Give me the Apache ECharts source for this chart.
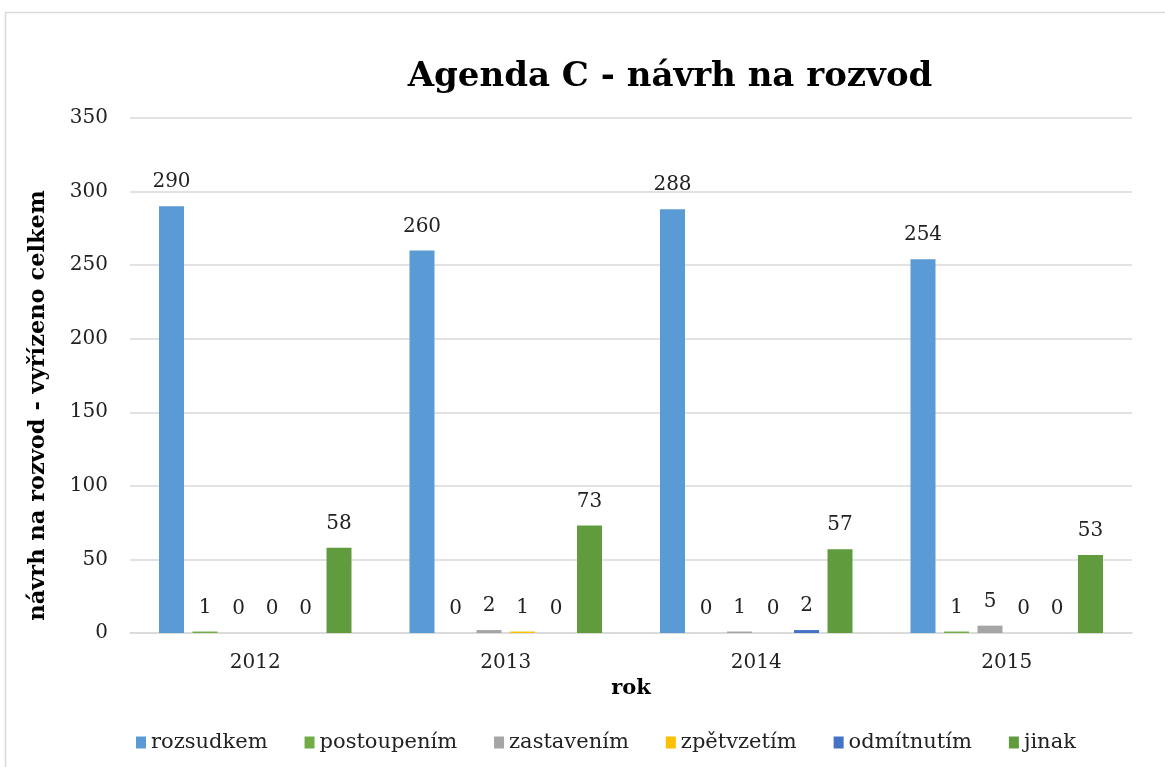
<!DOCTYPE html>
<html>
<head>
<meta charset="utf-8">
<script src="https://cdn.jsdelivr.net/npm/echarts@6/dist/echarts.min.js"></script>
<style>
  html, body { margin: 0; padding: 0; background: #fff; }
  #main { width: 1165px; height: 767px; }
</style>
</head>
<body>
<div id="main"></div>
<script>
var years = ['2012', '2013', '2014', '2015'];
var seriesNames = ['rozsudkem', 'postoupením', 'zastavením', 'zpětvzetím', 'odmítnutím', 'jinak'];
var rozsudkem = [290, 260, 288, 254];
var postoupenim = [1, 0, 0, 1];
var zastavenim = [0, 2, 1, 5];
var zpetvzetim = [0, 1, 0, 0];
var odmitnutim = [0, 0, 2, 0];
var jinak = [58, 73, 57, 53];
var colors = ['#5B9BD5', '#70AD47', '#A5A5A5', '#FFC000', '#4472C4', '#609B3E'];

var font = 'DejaVu Serif';
var chart = echarts.init(document.getElementById('main'));
var values = [rozsudkem, postoupenim, zastavenim, zpetvzetim, odmitnutim, jinak];
var series = [];
for (let i = 0; i < seriesNames.length; i++) {
    series.push({
        name: seriesNames[i],
        type: 'bar',
        data: values[i],
        barWidth: 25,
        barGap: '34%',
        itemStyle: { color: colors[i] },
        label: {
            show: true,
            position: 'top',
            distance: 14,
            fontFamily: font,
            fontSize: 20,
            color: '#222'
        }
    });
}

chart.setOption({
    animation: false,
    graphic: [{
        type: 'rect',
        shape: { x: 5.5, y: 12.5, width: 1200, height: 800 },
        style: { fill: 'none', stroke: '#D9D9D9', lineWidth: 1.5 },
        silent: true
    }],
    title: {
        text: 'Agenda C - návrh na rozvod',
        left: 665,
        top: 55,
        textAlign: 'center',
        textStyle: {
            fontFamily: font,
            fontWeight: 'bold',
            fontSize: 34,
            color: '#000'
        }
    },
    legend: {
        data: seriesNames,
        top: 727,
        left: 131,
        itemWidth: 10,
        itemHeight: 12,
        itemGap: 37,
        icon: 'rect',
        textStyle: {
            fontFamily: font,
            fontSize: 21,
            color: '#222'
        }
    },
    grid: {
        left: 130,
        right: 33,
        top: 118,
        bottom: 134,
        containLabel: false
    },
    xAxis: {
        type: 'category',
        data: years,
        name: 'rok',
        nameLocation: 'middle',
        nameGap: 45,
        nameTextStyle: {
            fontFamily: font,
            fontWeight: 'bold',
            fontSize: 21,
            color: '#000'
        },
        axisLine: { lineStyle: { color: '#D9D9D9', width: 1.5 } },
        axisTick: { show: false },
        axisLabel: {
            fontFamily: font,
            fontSize: 20,
            color: '#222',
            margin: 20
        }
    },
    yAxis: {
        type: 'value',
        min: 0,
        max: 350,
        interval: 50,
        name: 'návrh na rozvod - vyřízeno celkem',
        nameLocation: 'middle',
        nameGap: 80,
        nameTextStyle: {
            fontFamily: font,
            fontWeight: 'bold',
            fontSize: 22.5,
            color: '#000',
            padding: [0, 60, 0, 0]
        },
        axisLine: { show: false },
        axisTick: { show: false },
        splitLine: { lineStyle: { color: '#D9D9D9', width: 1.5 } },
        axisLabel: {
            fontFamily: font,
            fontSize: 20,
            color: '#222',
            margin: 22
        }
    },
    series: series
});
</script>
</body>
</html>
